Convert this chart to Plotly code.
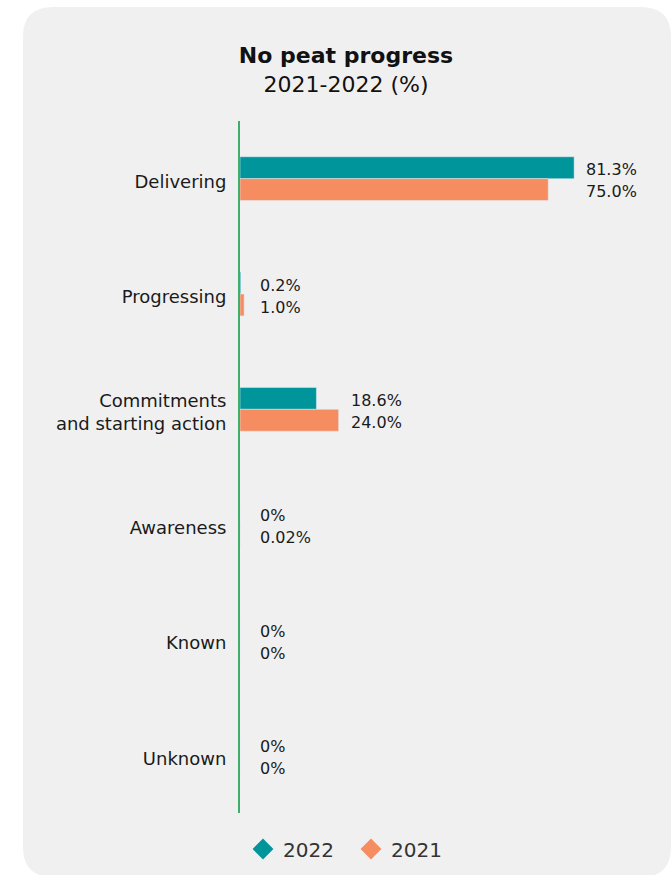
import plotly.graph_objects as go

categories = ["Delivering", "Progressing", "Commitments<br>and starting action",
              "Awareness", "Known", "Unknown"]
values_2022 = [81.3, 0.2, 18.6, 0, 0, 0]
values_2021 = [75.0, 1.0, 24.0, 0.02, 0, 0]
labels_2022 = ["81.3%", "0.2%", "18.6%", "0%", "0%", "0%"]
labels_2021 = ["75.0%", "1.0%", "24.0%", "0.02%", "0%", "0%"]

TEAL = "#00959a"
ORANGE = "#f68d61"
FONT = "DejaVu Sans"
W, H = 672, 875
L, R, T, B = 240, 21, 121, 62
pw, ph = W - L - R, H - T - B

fig = go.Figure()
fig.add_trace(go.Bar(y=categories, x=values_2022, orientation="h", name="2022",
                     marker_color=TEAL, showlegend=False))
fig.add_trace(go.Bar(y=categories, x=values_2021, orientation="h", name="2021",
                     marker_color=ORANGE, showlegend=False))
fig.add_trace(go.Scatter(x=[None], y=[None], mode="markers", name="2022",
                         marker=dict(symbol="diamond", size=18, color=TEAL)))
fig.add_trace(go.Scatter(x=[None], y=[None], mode="markers", name="2021",
                         marker=dict(symbol="diamond", size=18, color=ORANGE)))

annotations = []
for c, a, b, la, lb in zip(categories, values_2022, values_2021, labels_2022, labels_2021):
    xm = max(a, b, 2.0)
    annotations.append(dict(x=xm, y=c, text=la, xanchor="left", yanchor="middle",
                            xshift=10, yshift=9, showarrow=False,
                            font=dict(family=FONT, size=16, color="#1a1a1a")))
    annotations.append(dict(x=xm, y=c, text=lb, xanchor="left", yanchor="middle",
                            xshift=10, yshift=-13, showarrow=False,
                            font=dict(family=FONT, size=16, color="#1a1a1a")))

# rounded card background (decoration, in paper coords)
def px2x(p):
    return (p - L) / pw

def py2y(p):
    return (H - B - p) / ph

x0, x1, y0, y1 = 23, 671, 7, 877
r = 30
rx, ry = r / pw, r / ph
X0, X1, Y0, Y1 = px2x(x0), px2x(x1), py2y(y0), py2y(y1)
path = (f"M {X0+rx},{Y0} L {X1-rx},{Y0} Q {X1},{Y0} {X1},{Y0-ry} "
        f"L {X1},{Y1+ry} Q {X1},{Y1} {X1-rx},{Y1} L {X0+rx},{Y1} "
        f"Q {X0},{Y1} {X0},{Y1+ry} L {X0},{Y0-ry} Q {X0},{Y0} {X0+rx},{Y0} Z")

fig.update_layout(
    width=W, height=H,
    margin=dict(l=L, r=R, t=T, b=B, autoexpand=False),
    paper_bgcolor="white",
    plot_bgcolor="rgba(0,0,0,0)",
    barmode="group", bargap=0.62, bargroupgap=0,
    shapes=[dict(type="path", path=path, xref="paper", yref="paper",
                 fillcolor="#f0f0f0", line=dict(width=0), layer="below")],
    annotations=annotations,
    title=dict(text="<b>No peat progress</b><br>2021-2022 (%)",
               x=px2x(346), xref="paper", xanchor="center",
               y=1 - 63 / H, yref="container", yanchor="top",
               font=dict(family=FONT, size=22, color="#111111")),
    xaxis=dict(range=[0, 100], visible=False, fixedrange=True),
    yaxis=dict(autorange="reversed", showline=True, linecolor="#3fae6a", linewidth=2,
               showgrid=False, zeroline=False, ticks="", ticklabelstandoff=8,
               ticklabelshift=-3,
               tickfont=dict(family=FONT, size=18, color="#1a1a1a")),
    legend=dict(orientation="h", x=px2x(351), xanchor="center", y=py2y(849),
                yanchor="middle", font=dict(family=FONT, size=20, color="#333333"),
                bgcolor="rgba(0,0,0,0)", itemwidth=30, entrywidth=63),
    font=dict(family=FONT),
)

fig.write_html("out.html", config={"displayModeBar": False},
               post_script="document.body.style.margin='0';")
